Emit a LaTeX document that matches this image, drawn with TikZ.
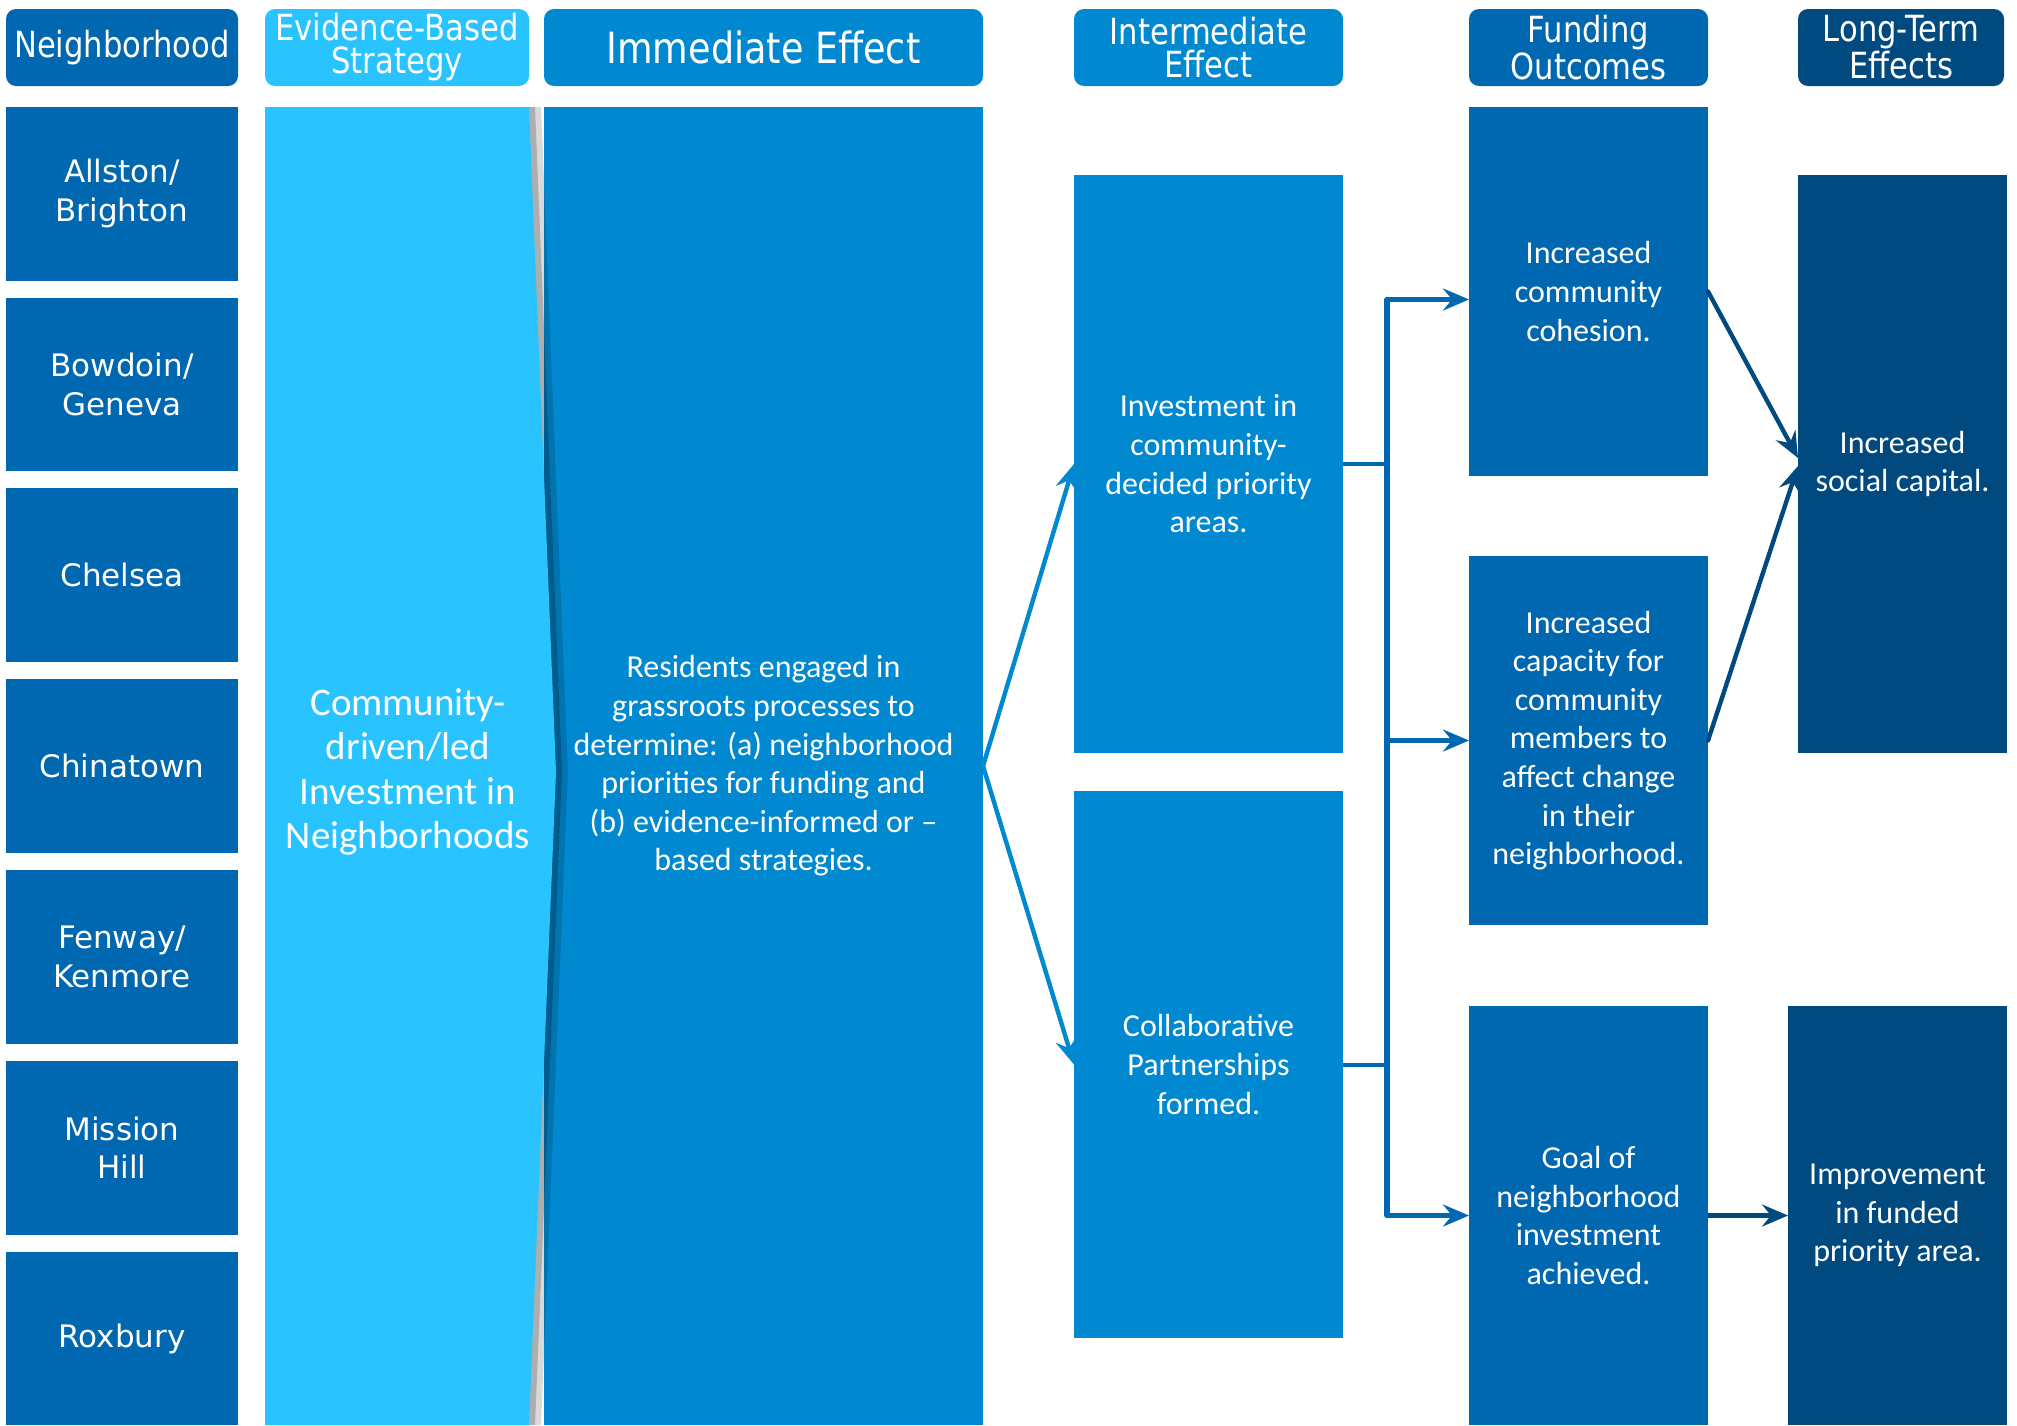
\documentclass[tikz,border=0pt]{standalone}
\usepackage{fontspec}
\setmainfont{Carlito}
\newfontfamily\hdfam[FakeStretch=0.85]{DejaVu Sans}
\newfontfamily\nbfam{DejaVu Sans}
\usetikzlibrary{positioning,calc,arrows.meta}

\definecolor{nbblue}{RGB}{0,103,177}
\definecolor{stratblue}{RGB}{41,195,255}
\definecolor{effblue}{RGB}{0,137,208}
\definecolor{ltblue}{RGB}{0,74,128}

\tikzset{
    hdr/.style={fill=#1, rounded corners=5pt, text=white, align=center, inner sep=0pt, outer sep=0pt,
        minimum height=38.5pt, font=\hdfam\fontsize{18}{16.5}\selectfont},
    nbox/.style={fill=nbblue, text=white, align=center, inner sep=0pt, outer sep=0pt,
        minimum width=116pt, minimum height=86.85pt, font=\nbfam\fontsize{15.5}{19.3}\selectfont},
    cbox/.style={fill=#1, text=white, align=center, inner sep=0pt, outer sep=0pt,
        font=\fontsize{16}{19.3}\selectfont},
    arr/.style={-{Stealth[length=13pt,width=11pt,inset=4.5pt]}, line width=2.2pt},
}

\begin{document}
\begin{tikzpicture}[x=0.5pt, y=-0.5pt]
    \useasboundingbox (0,0) rectangle (2017,1425);

    \node[hdr=nbblue, minimum width=116pt] (hnb) at (122,47.5) {Neighborhood};
    \node[hdr=stratblue, minimum width=132pt] (hstrat) at (397,47.5) {Evidence-Based\\Strategy};
    \node[hdr=effblue, minimum width=219.5pt, font=\hdfam\fontsize{21.5}{24}\selectfont] (himm) at (763.5,47.5) {Immediate Effect};
    \node[hdr=effblue, minimum width=134.5pt] (hint) at (1208.5,47.5) {Intermediate\\Effect};
    \node[hdr=nbblue, minimum width=119.5pt] (hfund) at (1588.5,47.5) {Funding\\Outcomes};
    \node[hdr=ltblue, minimum width=103pt] (hlt) at (1901,47.5) {Long-Term\\Effects};

    \node[nbox] (nb1) at (122,193.7) {Allston/\\Brighton};
    \node[nbox, below=8.55pt of nb1] (nb2) {Bowdoin/\\Geneva};
    \node[nbox, below=8.55pt of nb2] (nb3) {Chelsea};
    \node[nbox, below=8.55pt of nb3] (nb4) {Chinatown};
    \node[nbox, below=8.55pt of nb4] (nb5) {Fenway/\\Kenmore};
    \node[nbox, below=8.55pt of nb5] (nb6) {Mission\\Hill};
    \node[nbox, below=8.55pt of nb6] (nb7) {Roxbury};

    \node[cbox=effblue, minimum width=219.5pt, minimum height=659pt] (imm) at (763.5,766)
        {Residents engaged in\\grassroots processes to\\determine: (a) neighborhood\\priorities for funding and\\(b) evidence-informed or \textendash\\based strategies.};
    \fill[black, opacity=0.15, xshift=6pt] (265,107) -- (529,107) -- (556,772) -- (529,1425) -- (265,1425) -- cycle;
    \fill[black, opacity=0.2, xshift=3pt] (265,107) -- (529,107) -- (556,772) -- (529,1425) -- (265,1425) -- cycle;
    \fill[stratblue] (265,107) -- (529,107) -- (556,772) -- (529,1425) -- (265,1425) -- cycle;
    \node[text=white, align=center, font=\fontsize{19.5}{22.3}\selectfont] (strat) at (408,772)
        {Community-\\driven/led\\Investment in\\Neighborhoods};

    \node[cbox=effblue, minimum width=134.5pt, minimum height=289pt] (int1) at (1208.5,464)
        {Investment in\\community-\\decided priority\\areas.};
    \node[cbox=effblue, minimum width=134.5pt, minimum height=273.5pt] (int2) at (1208.5,1064.5)
        {Collaborative\\Partnerships\\formed.};

    \node[cbox=nbblue, minimum width=119.5pt, minimum height=184.5pt] (fund1) at (1588.5,291.5)
        {Increased\\community\\cohesion.};
    \node[cbox=nbblue, minimum width=119.5pt, minimum height=184.5pt] (fund2) at (1588.5,740.5)
        {Increased\\capacity for\\community\\members to\\affect change\\in their\\neighborhood.};
    \node[cbox=nbblue, minimum width=119.5pt, minimum height=209.5pt] (fund3) at (1588.5,1215.5)
        {Goal of\\neighborhood\\investment\\achieved.};

    \node[cbox=ltblue, minimum width=104.5pt, minimum height=289pt] (lt1) at (1902.5,464)
        {Increased\\social capital.};
    \node[cbox=ltblue, minimum width=109.5pt, minimum height=209.5pt] (lt2) at (1897.5,1215.5)
        {Improvement\\in funded\\priority area.};

    \draw[arr, effblue] (imm.east) -- (int1.west);
    \draw[arr, effblue] (imm.east) -- (int2.west);

    \coordinate (bus) at (1387,0);
    \coordinate (f1in) at ([yshift=-4pt]fund1.west);
    \draw[nbblue, line width=2pt] (int1.east) -- (int1.east -| bus);
    \draw[nbblue, line width=2pt] (int2.east) -- (int2.east -| bus);
    \draw[nbblue, line width=2.6pt, line cap=round] (bus |- f1in) -- (bus |- fund3.west);
    \draw[arr, nbblue] (bus |- f1in) -- (f1in);
    \draw[arr, nbblue] (bus |- fund2.west) -- (fund2.west);
    \draw[arr, nbblue] (bus |- fund3.west) -- (fund3.west);

    \draw[arr, ltblue, line cap=round] (fund1.east) -- ([yshift=3pt]lt1.west);
    \draw[arr, ltblue, line cap=round] (fund2.east) -- ([yshift=-1pt]lt1.west);
    \draw[arr, ltblue] (fund3.east) -- (lt2.west);
\end{tikzpicture}
\end{document}
